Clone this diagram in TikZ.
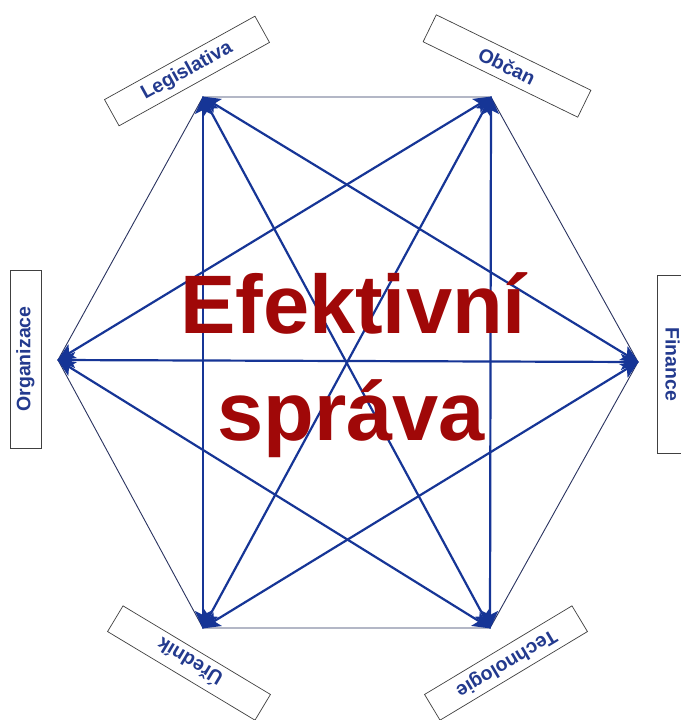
\documentclass[tikz,border=0pt]{standalone}
\usepackage{fontspec}
\setmainfont{Liberation Sans}
\usetikzlibrary{arrows.meta}
\definecolor{lblue}{HTML}{233A8E}
\definecolor{dblue}{HTML}{163596}
\definecolor{edgec}{HTML}{2A3360}
\definecolor{titlered}{HTML}{A00808}
\tikzset{
  labelbox/.style={draw=black!75,line width=0.7pt,fill=white,minimum width=172pt,minimum height=30pt,inner sep=0pt,
    font=\fontsize{19.5}{19.5}\selectfont\bfseries,text=lblue},
  hexedge/.style={draw=edgec,line width=0.9pt},
  diag/.style={draw=dblue,line width=2.2pt,{Stealth[length=18pt,width=16pt,inset=4pt]}-{Stealth[length=18pt,width=16pt,inset=4pt]},shorten <=-1pt,shorten >=-1pt},
  title/.style={font=\fontsize{83}{83}\selectfont\bfseries,text=titlered,inner sep=0pt,anchor=base}
}
\begin{document}
\begin{tikzpicture}[x=1pt,y=-1pt]
\useasboundingbox[fill=white] (0,0) rectangle (680,720);
\coordinate (TL) at (203,97);
\coordinate (TR) at (491,97);
\coordinate (R) at (638,362);
\coordinate (BR) at (490,628);
\coordinate (BL) at (203,628);
\coordinate (L) at (58,360);
% hexagon edges
\draw[hexedge] (TL) -- (TR) -- (R) -- (BR) -- (BL) -- (L) -- cycle;
% diagonals
\draw[diag] (TL) -- (BR);
\draw[diag] (TR) -- (BL);
\draw[diag] (L) -- (R);
\draw[diag] (TL) -- (R);
\draw[diag] (TR) -- (BR);
\draw[diag] (R) -- (BL);
\draw[diag] (BR) -- (L);
\draw[diag] (BL) -- (TL);
\draw[diag] (L) -- (TR);
% labels
\node[labelbox,rotate=29] (leg) at (187,71) {Legislativa};
\node[labelbox,rotate=-26] (obc) at (507,66) {Občan};
\node[labelbox,rotate=90,minimum width=178pt,minimum height=31pt] (org) at (25.5,359) {Organizace};
\node[labelbox,rotate=-90,minimum width=178pt,minimum height=31pt] (fin) at (672.5,364) {Finance};
\node[labelbox,rotate=149] (ured) at (189,663) {Úředník};
\node[labelbox,rotate=211] (tech) at (506,663) {Technologie};
% title
\node[title] (t1) at (353,333) {Efektivní};
\node[title] (t2) at (351,440) {správa};
\end{tikzpicture}
\end{document}
